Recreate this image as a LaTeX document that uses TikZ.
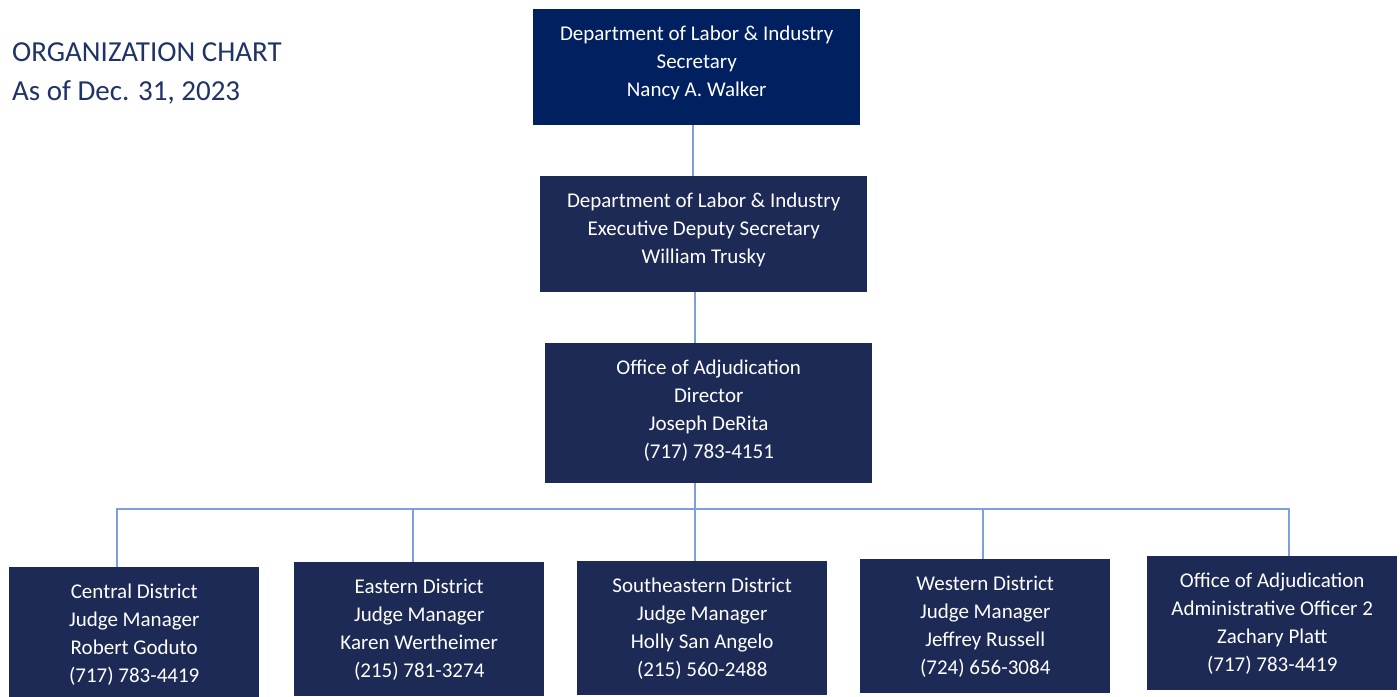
\documentclass[tikz,border=0pt]{standalone}
\usepackage{fontspec}
\setmainfont{Carlito}
\definecolor{topfill}{HTML}{002060}
\definecolor{boxfill}{HTML}{1C2A55}
\definecolor{linkc}{HTML}{7F9FDA}
\definecolor{titlec}{HTML}{1F3466}
\newcommand\tstrut[1]{\rule{0pt}{#1}}
\newcommand\bstrut[1]{\rule[-#1]{0pt}{#1}}
\tikzset{
  orgbox/.style={anchor=north west, fill=boxfill, text=white, align=center, inner sep=0pt,
    font=\fontsize{21}{28}\selectfont},
  link/.style={draw=linkc, line width=1.6pt},
}
\begin{document}
\begin{tikzpicture}[x=1pt,y=-1pt]
\useasboundingbox (0,0) rectangle (1400,696);
\fill[white] (0,0) rectangle (1400,696);
% title
\node[anchor=north west, inner sep=0pt, text=titlec, align=left, font=\fontsize{29}{39}\selectfont] (title) at (12,31)
  {\tstrut{30pt}ORGANIZATION CHART\\As of Dec. 31, 2023};
% top levels
\node[orgbox, fill=topfill, minimum width=327pt, minimum height=116pt] (sec) at (533,9)
  {\tstrut{31pt}Department of Labor \& Industry\\Secretary\\Nancy A. Walker\bstrut{29pt}};
\node[orgbox, minimum width=327pt, minimum height=116pt] (dep) at (540,176)
  {\tstrut{31pt}Department of Labor \& Industry\\Executive Deputy Secretary\\William Trusky\bstrut{29pt}};
\node[orgbox, minimum width=327pt, minimum height=140pt] (dir) at (545,343)
  {\tstrut{31pt}Office of Adjudication\\Director\\Joseph DeRita\\(717) 783-4151\bstrut{25pt}};
% bottom row
\node[orgbox, minimum width=250pt, minimum height=134pt] (cen) at (9,567)
  {\tstrut{31pt}Central District\\Judge Manager\\Robert Goduto\\(717) 783-4419\bstrut{19pt}};
\node[orgbox, minimum width=250pt, minimum height=134pt] (eas) at (294,562)
  {\tstrut{31pt}Eastern District\\Judge Manager\\Karen Wertheimer\\(215) 781-3274\bstrut{19pt}};
\node[orgbox, minimum width=250pt, minimum height=134pt] (sea) at (577,561)
  {\tstrut{31pt}Southeastern District\\Judge Manager\\Holly San Angelo\\(215) 560-2488\bstrut{19pt}};
\node[orgbox, minimum width=250pt, minimum height=134pt] (wes) at (860,559)
  {\tstrut{31pt}Western District\\Judge Manager\\Jeffrey Russell\\(724) 656-3084\bstrut{19pt}};
\node[orgbox, minimum width=250pt, minimum height=134pt] (adm) at (1147,556)
  {\tstrut{31pt}Office of Adjudication\\Administrative Officer 2\\Zachary Platt\\(717) 783-4419\bstrut{19pt}};
% connector points
\coordinate (j1) at (693,150);
\coordinate (j2) at (695,509);
\coordinate (b1) at (117,509);
\coordinate (b2) at (413,509);
\coordinate (b4) at (983,509);
\coordinate (b5) at (1289,509);
\draw[link] (j1 |- sec.south) -- (j1 |- dep.north);
\draw[link] (j2 |- dep.south) -- (j2 |- dir.north);
\draw[link] (j2 |- dir.south) -- (j2) -- (j2 |- sea.north);
\draw[link] (b1 |- cen.north) -- (b1) -- (b5) -- (b5 |- adm.north);
\draw[link] (b2) -- (b2 |- eas.north);
\draw[link] (b4) -- (b4 |- wes.north);
\end{tikzpicture}
\end{document}
